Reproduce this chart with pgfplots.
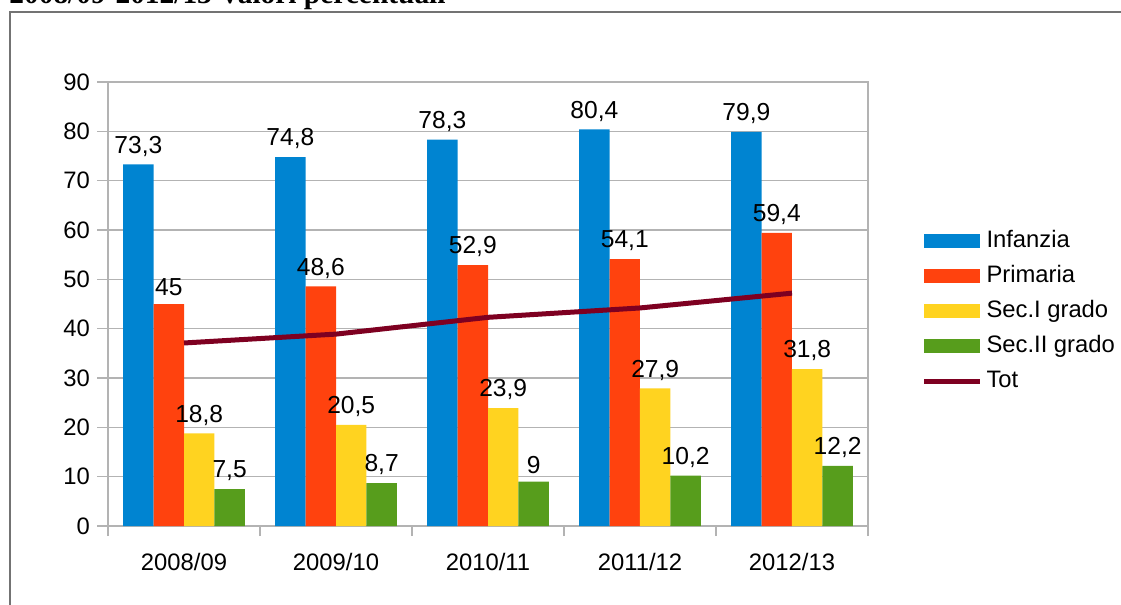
\documentclass[border=0pt]{standalone}
\usepackage{fontspec}
\setmainfont{Liberation Sans}
\newfontfamily\titlefont{Liberation Serif}
\usepackage{pgfplots}
\pgfplotsset{compat=1.18}
\definecolor{cInf}{HTML}{0084D1}
\definecolor{cPri}{HTML}{FF420E}
\definecolor{cSecI}{HTML}{FFD320}
\definecolor{cSecII}{HTML}{579D1C}
\definecolor{cTot}{HTML}{7E0021}
\definecolor{gridgray}{HTML}{B3B3B3}
\pgfplotsset{
  barswatch/.style={legend image code/.code={\fill[##1] (0pt,-3.5pt) rectangle (28pt,3.5pt);}},
}
\begin{document}
\begin{tikzpicture}
\useasboundingbox (0,0) rectangle (560.5pt,-302.5pt);
\draw[gray!90!black, line width=1pt] (5pt,-6pt) rectangle (580pt,-330pt);
\node[anchor=base west, inner sep=0pt, font=\titlefont\bfseries\fontsize{14.7}{16}\selectfont]
  at (4.5pt,-1.75pt) {2008/09-2012/13 Valori percentuali};
\begin{axis}[
  at={(54pt,-263pt)}, anchor=south west,
  scale only axis, width=380pt, height=222pt,
  xmin=-0.5, xmax=4.5, ymin=0, ymax=90,
  xtick={0,1,2,3,4},
  xticklabels={2008/09,2009/10,2010/11,2011/12,2012/13},
  minor xtick={-0.5,0.5,1.5,2.5,3.5,4.5},
  ytick={0,10,...,90},
  tick pos=left,
  tick align=outside,
  major tick length=5.5pt,
  minor tick length=5pt,
  x tick style={draw=none},
  minor x tick style={draw=gridgray, line width=0.75pt},
  y tick style={draw=gridgray, line width=0.75pt},
  axis line style={draw=gridgray, line width=0.75pt},
  ymajorgrids,
  major grid style={draw=gridgray, line width=0.75pt},
  tick label style={font=\fontsize{11.9}{13}\selectfont},
  xticklabel style={yshift=-4.5pt},
  /pgf/number format/assume math mode=true,
  /pgf/number format/use comma,
  ybar=0pt, bar width=0.2,
  nodes near coords,
  nodes near coords style={font=\fontsize{12.3}{13}\selectfont, text=black, yshift=0.5pt},
  legend style={draw=none, at={(1.062,0.484)}, anchor=west,
    font=\fontsize{11.9}{13}\selectfont,
    nodes={text height=8.5pt, text depth=2.2pt, inner ysep=1pt},
    row sep=4.8pt},
  legend cell align=left,
]
\addplot[fill=cInf, draw=none, bar shift=-0.3, barswatch] coordinates {
  (0,73.3) (1,74.8) (2,78.3) (3,80.4) (4,79.9)
};
\addlegendentry{Infanzia}
\addplot[fill=cPri, draw=none, bar shift=-0.1, barswatch] coordinates {
  (0,45) (1,48.6) (2,52.9) (3,54.1) (4,59.4)
};
\addlegendentry{Primaria}
\addplot[fill=cSecI, draw=none, bar shift=0.1, barswatch] coordinates {
  (0,18.8) (1,20.5) (2,23.9) (3,27.9) (4,31.8)
};
\addlegendentry{Sec.I grado}
\addplot[fill=cSecII, draw=none, bar shift=0.3, barswatch] coordinates {
  (0,7.5) (1,8.7) (2,9) (3,10.2) (4,12.2)
};
\addlegendentry{Sec.II grado}
\addplot[sharp plot, draw=cTot, line width=2.5pt, nodes near coords={},
  legend image code/.code={\draw[cTot, line width=2.5pt] (0pt,0pt) -- (28pt,0pt);}]
  coordinates {
  (0,37.1) (1,38.9) (2,42.3) (3,44.2) (4,47.2)
};
\addlegendentry{Tot}
\end{axis}
\end{tikzpicture}
\end{document}
